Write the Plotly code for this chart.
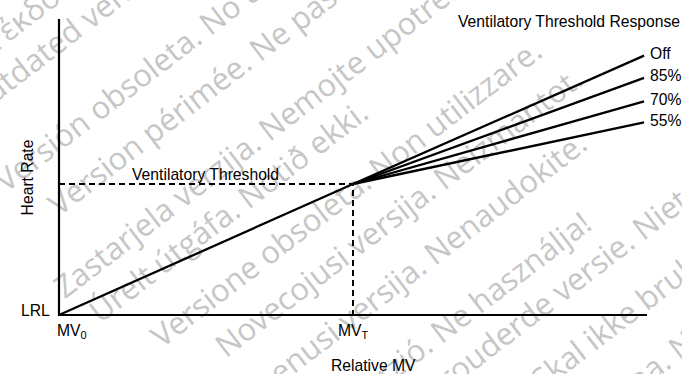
import math
import plotly.graph_objects as go

W, H = 682, 374

# relative MV: MV0 = 0, MVT = 1 ; heart rate: LRL = 0, threshold = 1
base_x = [0, 1]
base_y = [0, 1]
resp_names = ["Off", "85%", "70%", "55%"]
resp_end_x = 1.99
resp_end_y = [1.98, 1.81, 1.63, 1.47]
x_axis_end = 2.0
y_axis_top = 2.26
x_tick_text = ["MV<sub>0</sub>", "MV<sub>T</sub>"]
y_tick_text = ["LRL"]

# watermark rows: text, distance across rows, start along row (px)
wm_text = [
    "Παλιά έκδοση. Μην την χρησιμοποιείτε.",
    "Outdated version. Do not use.",
    "Versión obsoleta. No utilizar.",
    "Version périmée. Ne pas utiliser.",
    "Zastarjela verzija. Nemojte upotrebljavati.",
    "Úrelt útgáfa. Notið ekki.",
    "Versione obsoleta. Non utilizzare.",
    "Novecojusi versija. Neizmantot.",
    "Pasenusi versija. Nenaudokite.",
    "Elavult verzió. Ne használja!",
    "Verouderde versie. Niet gebruiken.",
    "Utdatert versjon. Skal ikke brukes.",
    "Wersja przeterminowana. Nie używać.",
]
wm_across = [39, 79, 157, 208, 277, 318, 375, 422, 476, 542, 583, 641, 700]
wm_along = [-115, -92, -113, -85, -131, -118, -84, -39, -63, -66, 82, -61, -60]

fig = go.Figure()

# axes
fig.add_trace(go.Scatter(x=[0, 0, x_axis_end], y=[y_axis_top, 0, 0], mode="lines",
                         line=dict(color="black", width=2.2), showlegend=False, hoverinfo="skip"))
# threshold guides
fig.add_trace(go.Scatter(x=[0, base_x[1], base_x[1]], y=[base_y[1], base_y[1], 0], mode="lines",
                         line=dict(color="black", width=2, dash="6px,4px"), showlegend=False, hoverinfo="skip"))
# rate response below threshold
fig.add_trace(go.Scatter(x=base_x, y=base_y, mode="lines",
                         line=dict(color="black", width=2.3), showlegend=False, hoverinfo="skip"))
# responses above threshold
for name, ye in zip(resp_names, resp_end_y):
    fig.add_trace(go.Scatter(x=[base_x[1], resp_end_x], y=[base_y[1], ye], mode="lines",
                             line=dict(color="black", width=2.3), showlegend=False, hoverinfo="skip", name=name))
    fig.add_annotation(x=resp_end_x, y=ye, text=name, showarrow=False, xanchor="left",
                       xshift=4, yshift=2)

lab = dict(family="Liberation Sans, Arial, sans-serif", size=15.7, color="black")

fig.add_annotation(x=0, y=0, text=y_tick_text[0], showarrow=False, xanchor="right", xshift=-7, yshift=4.4)
fig.add_annotation(x=0, y=0, text=x_tick_text[0], showarrow=False, xanchor="left", xshift=-4, yshift=-16)
fig.add_annotation(x=1, y=0, text=x_tick_text[1], showarrow=False, xanchor="center", yshift=-16)
fig.add_annotation(x=0.2415, y=1, text="Ventilatory Threshold", showarrow=False, xanchor="left", yshift=10)
fig.add_annotation(x=373 / W, y=1 - 365.6 / H, xref="paper", yref="paper", text="Relative MV",
                   showarrow=False, xanchor="center", yanchor="middle")
fig.add_annotation(x=27.9 / W, y=1 - 177.5 / H, xref="paper", yref="paper", text="Heart Rate",
                   showarrow=False, textangle=-90, xanchor="center", yanchor="middle")
fig.add_annotation(x=456 / W, y=1 - 21.3 / H, xref="paper", yref="paper", text="Ventilatory Threshold Response",
                   showarrow=False, xanchor="left", yanchor="middle")

# watermark, drawn under the chart
ang = 37.5
th = math.radians(ang)
ux, uy = math.cos(th), -math.sin(th)
px_, py_ = math.sin(th), math.cos(th)
for text, c, a in zip(wm_text, wm_across, wm_along):
    c = c + 11  # label baseline sits a little above its guide line
    sx = a * ux + c * px_
    sy = a * uy + c * py_
    ex, ey = sx + 1400 * ux, sy + 1400 * uy
    fig.add_shape(type="line", xref="paper", yref="paper",
                  x0=sx / W, y0=1 - sy / H, x1=ex / W, y1=1 - ey / H,
                  line=dict(width=0, color="rgba(0,0,0,0)"), layer="below",
                  label=dict(text=text, textposition="start", textangle=-ang,
                             xanchor="left", yanchor="bottom", padding=0,
                             font=dict(family="Open Sans, sans-serif", size=31, color="#c6c6c6")))

fig.update_layout(
    width=W, height=H,
    margin=dict(l=0, r=0, t=0, b=0),
    paper_bgcolor="white", plot_bgcolor="white",
    font=lab,
    xaxis=dict(range=[-59 / 294, 623 / 294], visible=False, fixedrange=True),
    yaxis=dict(range=[-59 / 131, 315 / 131], visible=False, fixedrange=True),
)

fig.write_html("out.html", config={"displayModeBar": False},
               post_script="document.body.style.margin='0';")
